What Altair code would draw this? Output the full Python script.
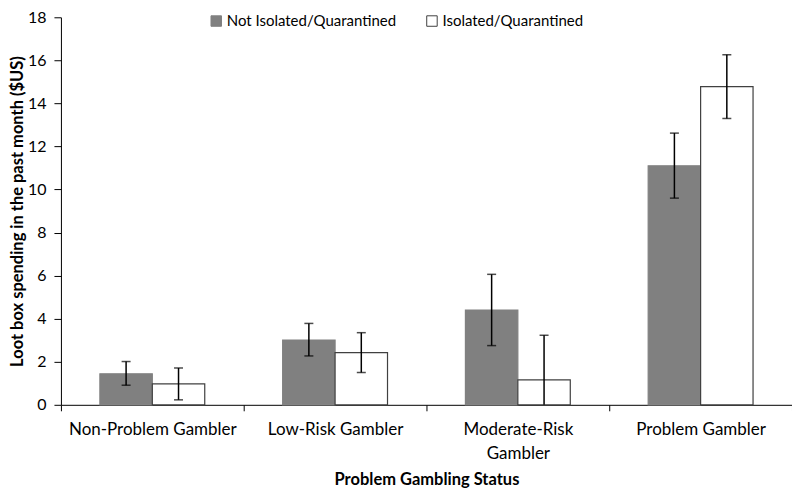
import altair as alt
import pandas as pd

categories = ["Non-Problem Gambler", "Low-Risk Gambler", "Moderate-Risk Gambler", "Problem Gambler"]
groups = ["Not Isolated/Quarantined", "Isolated/Quarantined"]
not_isolated = [1.44, 3.01, 4.40, 11.10]
not_isolated_lo = [0.91, 2.27, 2.75, 9.60]
not_isolated_hi = [2.01, 3.78, 6.06, 12.62]
isolated = [0.97, 2.42, 1.16, 14.78]
isolated_lo = [0.23, 1.50, 0.0, 13.30]
isolated_hi = [1.71, 3.35, 3.23, 16.26]

rows = []
for i, c in enumerate(categories):
    rows.append(dict(cat=c, grp=groups[0], val=not_isolated[i], lo=not_isolated_lo[i], hi=not_isolated_hi[i]))
    rows.append(dict(cat=c, grp=groups[1], val=isolated[i], lo=isolated_lo[i], hi=isolated_hi[i]))
df = pd.DataFrame(rows)

FONT = "Lato"

x = alt.X("cat:N", sort=categories, title="Problem Gambling Status",
          scale=alt.Scale(paddingInner=0, paddingOuter=0),
          axis=alt.Axis(labelAngle=0, tickBand="extent", tickSize=6, tickColor="#000000",
                        domainColor="#000000", labelFontSize=17, labelFont=FONT,
                        labelColor="#000000", labelPadding=11, labelLimit=300,
                        labelLineHeight=24,
                        labelExpr="datum.label == 'Moderate-Risk Gambler' ? ['Moderate-Risk', 'Gambler'] : datum.label",
                        titleFont=FONT, titleFontSize=16.5, titleFontWeight="bold",
                        titleColor="#000000", titlePadding=10))
xo = alt.XOffset("grp:N", sort=groups,
                 scale=alt.Scale(paddingInner=0, paddingOuter=0.743))
y_scale = alt.Scale(domain=[0, 18], nice=False)

bars = alt.Chart(df).mark_bar(strokeWidth=1.2).encode(
    x=x,
    xOffset=xo,
    y=alt.Y("val:Q", scale=y_scale, title="Loot box spending in the past month ($US)",
            axis=alt.Axis(values=list(range(0, 19, 2)), grid=False, tickSize=7,
                          tickColor="#000000", domainColor="#000000",
                          labelFontSize=16, labelFont=FONT, labelColor="#000000",
                          labelPadding=8, titleFont=FONT, titleFontSize=16.5,
                          titleFontWeight="bold", titleColor="#000000", titlePadding=2)),
    color=alt.Color("grp:N", sort=groups, title=None,
                    scale=alt.Scale(domain=groups, range=["#808080", "#ffffff"]),
                    legend=alt.Legend(orient="none", legendX=148, legendY=-4, direction="horizontal",
                                      symbolType="square", symbolSize=110, symbolStrokeWidth=1,
                                      labelFont=FONT, labelFontSize=15, labelColor="#000000",
                                      labelLimit=300, columnPadding=28, labelOffset=3,
                                      symbolOpacity=1)),
    stroke=alt.Stroke("grp:N", sort=groups, title=None,
                      scale=alt.Scale(domain=groups, range=["#808080", "#404040"])),
)

rules = alt.Chart(df).mark_rule(color="#000000", strokeWidth=1.5).encode(
    x=alt.X("cat:N", sort=categories),
    xOffset=xo,
    y=alt.Y("lo:Q", scale=y_scale),
    y2="hi:Q",
)
caps_hi = alt.Chart(df).mark_tick(color="#000000", thickness=1.5, size=9, orient="horizontal").encode(
    x=alt.X("cat:N", sort=categories),
    xOffset=xo,
    y=alt.Y("hi:Q", scale=y_scale),
)
caps_lo = alt.Chart(df[df["lo"] > 0]).mark_tick(color="#000000", thickness=1.5, size=9, orient="horizontal").encode(
    x=alt.X("cat:N", sort=categories),
    xOffset=xo,
    y=alt.Y("lo:Q", scale=y_scale),
)

chart = alt.layer(bars, rules, caps_hi, caps_lo).properties(
    width=732, height=388,
    autosize=alt.AutoSizeParams(type="none"),
    padding={"left": 53, "top": 9, "right": 0, "bottom": 85},
).configure_view(stroke=None)

chart.save("out.html", embed_options={"renderer": "svg", "actions": False})
